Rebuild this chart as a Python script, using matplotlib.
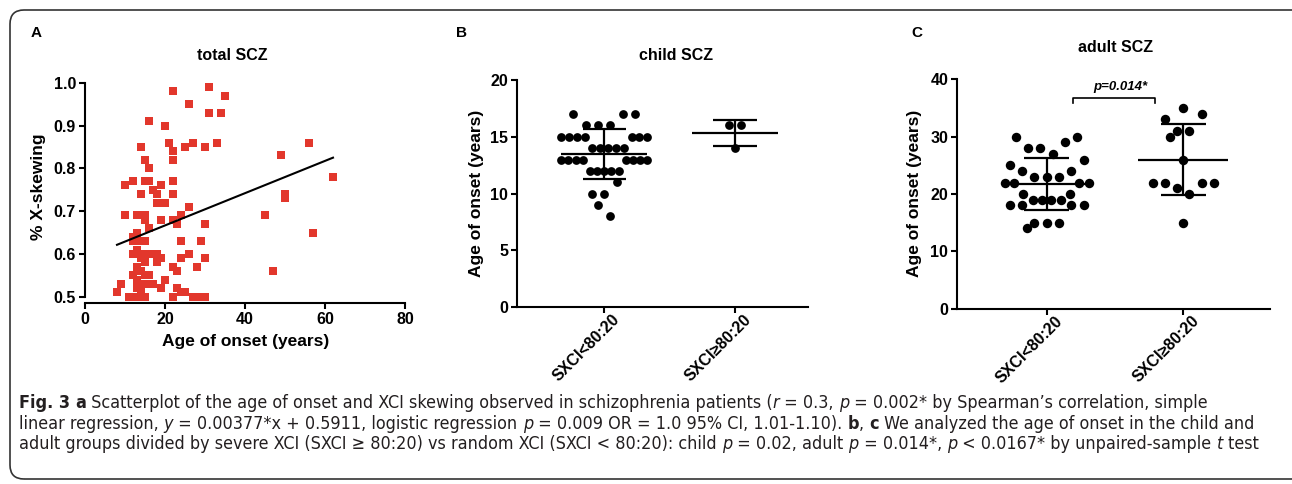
import numpy as np
import matplotlib
matplotlib.use("Agg")
import matplotlib.pyplot as plt
from matplotlib.patches import FancyBboxPatch
from matplotlib.transforms import IdentityTransform, ScaledTranslation
from matplotlib import font_manager
from matplotlib.font_manager import FontProperties

# ---------------- data ----------------
# Panel A: age of onset (years) vs % X-skewing
onset_age = [22, 31, 35, 26, 31, 34, 16, 20,
             14, 21, 22, 25, 27, 30, 33, 56, 49,
             15, 22, 16, 62,
             10, 12, 15, 16, 17, 19, 22,
             14, 18, 22, 50, 50, 18, 20, 26,
             10, 13, 15, 15, 19, 22, 24, 23, 30, 45,
             16, 57, 13, 12, 12, 14, 15, 24, 29,
             13, 12, 15, 17, 18, 14, 19, 24, 26, 30,
             15, 18, 13, 22, 28, 14, 23, 47,
             12, 15, 16, 13, 20,
             9, 14, 15, 17, 13, 19, 23,
             8, 14, 24, 25,
             11, 13, 15, 22, 27, 28, 30]
x_skewing = [0.98, 0.99, 0.97, 0.95, 0.93, 0.93, 0.91, 0.90,
             0.85, 0.86, 0.84, 0.85, 0.86, 0.85, 0.86, 0.86, 0.83,
             0.82, 0.82, 0.80, 0.78,
             0.76, 0.77, 0.77, 0.77, 0.75, 0.76, 0.77,
             0.74, 0.74, 0.74, 0.74, 0.73, 0.72, 0.72, 0.71,
             0.69, 0.69, 0.69, 0.68, 0.68, 0.68, 0.69, 0.67, 0.67, 0.69,
             0.66, 0.65, 0.65, 0.64, 0.63, 0.63, 0.63, 0.63, 0.63,
             0.61, 0.60, 0.60, 0.60, 0.60, 0.59, 0.59, 0.59, 0.60, 0.59,
             0.58, 0.58, 0.57, 0.57, 0.57, 0.56, 0.56, 0.56,
             0.55, 0.55, 0.55, 0.54, 0.54,
             0.53, 0.53, 0.53, 0.53, 0.52, 0.52, 0.52,
             0.51, 0.51, 0.51, 0.51,
             0.50, 0.50, 0.50, 0.50, 0.50, 0.50, 0.50]
reg_slope = 0.00377
reg_intercept = 0.5911

# Panels B, C: age of onset by XCI group
group_labels = ["SXCI<80:20", "SXCI\u226580:20"]
child_random = [17, 17, 17, 16, 16, 16, 15, 15, 15, 15, 15, 15, 15,
                14, 14, 14, 14, 14, 13, 13, 13, 13, 13, 13, 13, 13,
                12, 12, 12, 12, 12, 11, 10, 10, 9, 8]
child_severe = [16, 16, 14]
adult_random = [30, 30, 29, 28, 28, 27, 26, 25, 24, 24, 23, 23, 23,
                22, 22, 22, 22, 20, 20, 19, 19, 19, 19, 18, 18, 18, 18,
                15, 15, 15, 14]
adult_severe = [35, 34, 33, 31, 31, 30, 26, 22, 22, 22, 22, 21, 20, 15]
adult_p_label = "p=0.014*"

# ---------------- style ----------------
W, H = 1292, 484
plt.rcParams["font.family"] = ["Liberation Sans", "DejaVu Sans"]
plt.rcParams["font.weight"] = "bold"
plt.rcParams["axes.linewidth"] = 1.5

fig = plt.figure(figsize=(W / 100, H / 100), dpi=100)
renderer = fig.canvas.get_renderer()


def rect(l, t, r, b):
    return [l / W, 1 - b / H, (r - l) / W, (b - t) / H]


def ftext(x, y, s, **kw):
    kw.setdefault("ha", "center")
    kw.setdefault("va", "center")
    return fig.text(x / W, 1 - y / H, s, **kw)


def style_axes(ax):
    for s in ("top", "right"):
        ax.spines[s].set_visible(False)
    ax.tick_params(direction="out", length=4.5, width=1.5, labelsize=11.5,
                   pad=2, color="black")


# ---------------- Panel A ----------------
ax_a = fig.add_axes(rect(85, 82.7, 405, 296.7))
style_axes(ax_a)
ax_a.set_xlim(0, 80)
ax_a.set_ylim(0.5, 1.0)
ax_a.spines["bottom"].set_position(("outward", 4.3))
ax_a.set_xticks([0, 20, 40, 60, 80])
ax_a.set_yticks([0.5, 0.6, 0.7, 0.8, 0.9, 1.0])
ax_a.yaxis.set_major_formatter(matplotlib.ticker.FormatStrFormatter("%.1f"))
ax_a.scatter(onset_age, x_skewing, marker="s", s=5.4 ** 2, color="#E2372C",
             linewidths=0, clip_on=False, zorder=3)
xl = np.array([min(onset_age), max(onset_age)], dtype=float)
ax_a.plot(xl, reg_slope * xl + reg_intercept, color="black", lw=1.5, zorder=4)

ftext(36, 33, "A", fontsize=11)
ftext(232, 55, "total SCZ", fontsize=11.5)
ftext(245.5, 341.7, "Age of onset (years)", fontsize=12.5)
ftext(39, 187, "% X-skewing", fontsize=12.5, rotation=90)


# ---------------- dot plots ----------------
def slot_key(p):
    a = abs(p)
    return (a, -p if int(a) % 2 == 0 else p)


def binned_x(ax, center, values, bin_h, bin_off, step_px, max_span_px,
             diam_px):
    """Scatter-dot layout: values grouped in horizontal bins and spread
    around the column centre (lowest values nearest the centre); points that
    would hit a dot of another bin are pushed outwards."""
    vals = np.asarray(values, dtype=float)
    pts = ax.transData.transform(
        np.column_stack([np.full(len(vals), float(center)), vals]))
    ypx = pts[:, 1]
    c_px = pts[0, 0]
    keys = np.floor((vals - bin_off) / bin_h)
    offs = np.zeros(len(vals))
    placed = []
    for k in sorted(np.unique(keys), reverse=True):
        idx = np.where(keys == k)[0]
        idx = idx[np.argsort(vals[idx], kind="stable")]
        n = len(idx)
        step = step_px if n < 2 else min(step_px, max_span_px / (n - 1))
        slots = sorted([j - (n - 1) / 2 for j in range(n)], key=slot_key)
        new = []
        for i_pt, slot in zip(idx, slots):
            y = ypx[i_pt]

            def ok(x):
                return all((x - px) ** 2 + (y - py) ** 2 >= diam_px ** 2
                           for px, py in placed)
            x = slot * step
            if not ok(x):
                found = False
                for t in np.arange(0.5, 80, 0.5):
                    if slot > 0:
                        cands = [x + t]
                    elif slot < 0:
                        cands = [x - t]
                    else:
                        cands = [x - t, x + t]
                    for c in cands:
                        if ok(c):
                            x = c
                            found = True
                            break
                    if found:
                        break
            offs[i_pt] = x
            new.append((x, y))
        placed.extend(new)
    inv = ax.transData.inverted()
    return inv.transform(np.column_stack([c_px + offs, ypx]))[:, 0]


def mean_sd(ax, pos, vals):
    m = np.mean(vals)
    s = np.std(vals, ddof=1)
    kw = dict(color="black", lw=1.6, zorder=4)
    ax.hlines(m, pos - 0.33, pos + 0.33, **kw)
    ax.vlines(pos, m - s, m + s, **kw)
    ax.hlines([m - s, m + s], pos - 0.165, pos + 0.165, **kw)


def dot_panel(box, xlim, ylim, yticks, groups, ms, bin_h, bin_off, step,
              span):
    ax = fig.add_axes(rect(*box))
    style_axes(ax)
    ax.set_xlim(*xlim)
    ax.set_ylim(*ylim)
    ax.set_yticks(yticks)
    ax.set_xticks(range(len(groups)))
    ax.set_xticklabels(group_labels, rotation=45, ha="right", va="top",
                       rotation_mode="anchor", fontsize=11.5)
    shift = ScaledTranslation(8 / 100, 4.5 / 100, fig.dpi_scale_trans)
    for lab in ax.get_xticklabels():
        lab.set_transform(lab.get_transform() + shift)
    diam = ms * 100 / 72
    for i, vals in enumerate(groups):
        xs = binned_x(ax, i, vals, bin_h, bin_off, step, span, diam * 0.95)
        ax.plot(xs, vals, "o", color="black", ms=ms, mew=0, clip_on=False,
                zorder=3)
        mean_sd(ax, i, vals)
    return ax


ax_b = dot_panel((517.3, 80, 808, 307.3), (-0.664, 1.557), (0, 20),
                 [0, 5, 10, 15, 20], [child_random, child_severe], 6.3,
                 2, 0, 12.3, 86)
ftext(461.7, 33, "B", fontsize=11)
ftext(676, 55, "child SCZ", fontsize=11.5)
ftext(476.7, 193, "Age of onset (years)", fontsize=12.5, rotation=90)

ax_c = dot_panel((957.3, 79.3, 1270, 308.7), (-0.654, 1.635), (0, 40),
                 [0, 10, 20, 30, 40], [adult_random, adult_severe], 6.8,
                 4, 3, 12.3, 84)
ax_c.plot([0.19, 0.19, 0.79, 0.79], [35.8, 36.8, 36.8, 35.8], color="black",
          lw=1.2, clip_on=False)
ax_c.text(0.537, 38.6, adult_p_label, ha="center", va="center",
          fontsize=9.5, style="italic", fontweight="bold")
ftext(917, 33, "C", fontsize=11)
ftext(1116, 48, "adult SCZ", fontsize=11.5)
ftext(915, 193, "Age of onset (years)", fontsize=12.5, rotation=90)


# ---------------- caption font (prefer a condensed sans) ----------------
def is_condensed(f):
    st = f.stretch
    if "Narrow" in f.name or "Condensed" in f.name:
        return True
    if isinstance(st, str):
        return "condensed" in st
    try:
        return float(st) < 100
    except Exception:
        return False


def wnum(w):
    try:
        return float(w)
    except Exception:
        return {"bold": 700, "normal": 400, "regular": 400, "book": 400,
                "medium": 500}.get(str(w).lower(), 400)


cond = [f for f in font_manager.fontManager.ttflist
        if is_condensed(f) and f.fname.lower().endswith((".ttf", ".otf"))]
pref = ["Liberation Sans Narrow", "DejaVu Sans", "DejaVu Sans Condensed",
        "Noto Sans", "Open Sans", "Roboto", "Lato"]
cap_props = None
for nm in pref:
    fam = [f for f in cond if f.name == nm]
    if not fam:
        continue

    def pick(weight, style):
        best = None
        for f in fam:
            sc = abs(wnum(f.weight) - weight) + (0 if f.style == style else 1000)
            st = f.stretch
            if isinstance(st, str):
                sc += 0 if st == "condensed" else 50
            if best is None or sc < best[0]:
                best = (sc, f)
        return FontProperties(fname=best[1].fname)
    cap_props = {"n": pick(400, "normal"), "b": pick(700, "normal"),
                 "i": pick(400, "italic")}
    break

caption_lines = [
    [("Fig. 3", "b"), (" ", "n"), ("a", "b"),
     (" Scatterplot of the age of onset and XCI skewing observed in schizophrenia patients (", "n"),
     ("r", "i"), (" = 0.3, ", "n"), ("p", "i"),
     (" = 0.002* by Spearman\u2019s correlation, simple", "n")],
    [("linear regression, ", "n"), ("y", "i"),
     (" = 0.00377*x + 0.5911, logistic regression ", "n"), ("p", "i"),
     (" = 0.009 OR = 1.0 95% CI, 1.01-1.10). ", "n"), ("b", "b"), (", ", "n"),
     ("c", "b"), (" We analyzed the age of onset in the child and", "n")],
    [("adult groups divided by severe XCI (SXCI \u2265 80:20) vs random XCI (SXCI < 80:20): child ", "n"),
     ("p", "i"), (" = 0.02, adult ", "n"), ("p", "i"), (" = 0.014*, ", "n"),
     ("p", "i"), (" < 0.0167* by unpaired-sample ", "n"), ("t", "i"), (" test", "n")],
]
caption_right = [1230, 1222, 1266]
caption_base = [408, 429, 449]
cap_left = 19


def draw_runs(runs, x0, y, size, keep=True):
    x = x0
    made = []
    for s, st in runs:
        kw = dict(fontsize=size, color="#231F20", va="baseline", ha="left")
        if cap_props is not None:
            fp = cap_props[st].copy()
            fp.set_size(size)
            kw = dict(fontproperties=fp, color="#231F20", va="baseline", ha="left")
        else:
            kw.update(family=["Liberation Sans", "DejaVu Sans"],
                      fontweight="bold" if st == "b" else "normal",
                      style="italic" if st == "i" else "normal")
        t = fig.text(x / W, 1 - y / H, s, **kw)
        bb = t.get_window_extent(renderer)
        x = bb.x1
        made.append(t)
    if not keep:
        for t in made:
            t.remove()
    return x - x0


base = 10.0
ratios = []
for runs, r in zip(caption_lines, caption_right):
    w = draw_runs(runs, cap_left, 0, base, keep=False)
    ratios.append((r - cap_left) / w)
cap_size = base * float(np.mean(ratios))
for runs, yb in zip(caption_lines, caption_base):
    draw_runs(runs, cap_left, yb, cap_size)

# ---------------- frame ----------------
frame = FancyBboxPatch((10, 484 - 479), 1300, 469,
                       boxstyle="round,pad=0,rounding_size=14",
                       transform=IdentityTransform(), fill=False,
                       edgecolor="#333333", lw=1.2)
fig.add_artist(frame)

fig.savefig("out.png", dpi=100)
